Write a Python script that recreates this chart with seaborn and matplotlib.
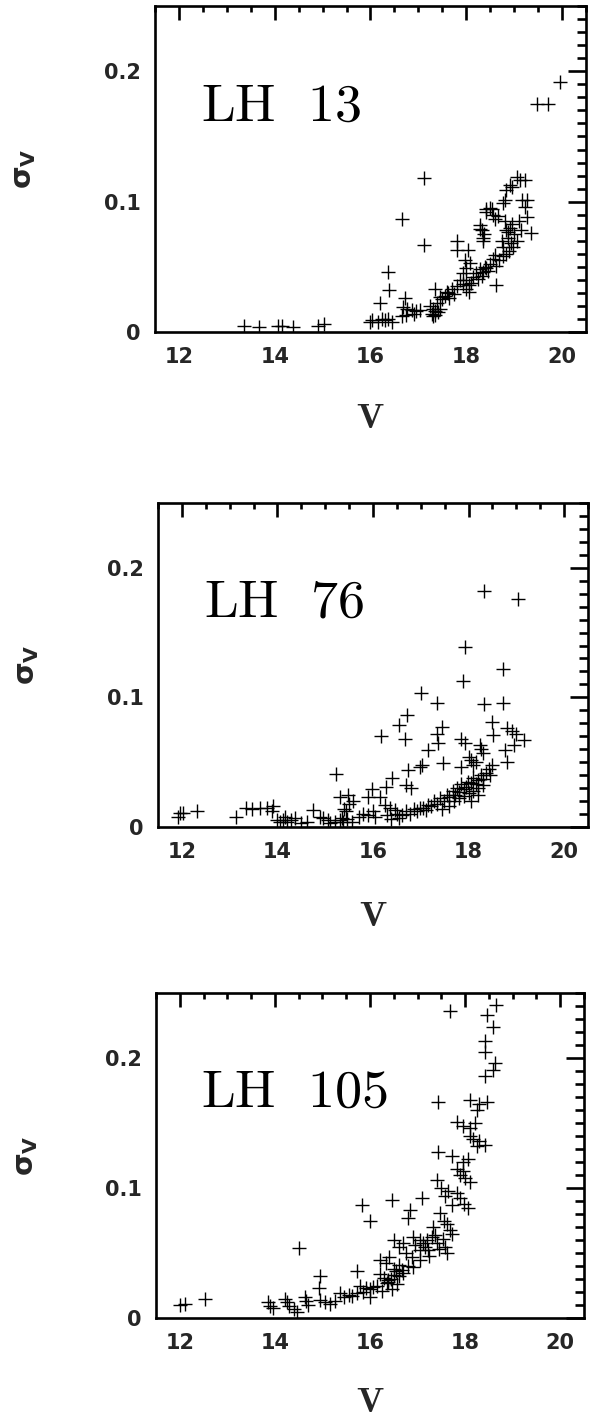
import matplotlib
matplotlib.use("Agg")
import matplotlib.pyplot as plt
from matplotlib.ticker import MultipleLocator
import seaborn as sns
import pandas as pd

# ---- photometric errors versus V magnitude for three LMC associations ----
lh13_v = [13.36, 13.67, 14.07, 14.15, 14.38, 14.90, 15.02,
          16.00, 16.04, 16.16, 16.24, 16.30, 16.37, 16.44,
          16.20, 16.39, 16.37, 16.65, 17.12, 17.12,
          19.95, 19.48, 19.71,
          16.65, 16.68, 16.72, 16.75, 16.76, 16.86, 16.95, 17.03, 16.90,
          17.24, 17.30, 17.35, 17.28, 17.39, 17.35, 17.45,
          17.30, 17.35, 17.40, 17.45,
          17.50, 17.55, 17.59, 17.65, 17.70, 17.75, 17.80, 17.62,
          17.80, 17.80, 18.04, 17.97, 18.08, 18.00, 17.94,
          17.87, 17.93, 18.00, 18.06, 18.15, 18.10, 17.99, 18.05,
          18.20, 18.28, 18.35, 18.25, 18.32, 18.40, 18.45,
          18.28, 18.33, 18.35, 18.29, 18.38, 18.36,
          18.42, 18.50, 18.55, 18.66, 18.53, 18.60, 18.42,
          18.42, 18.49, 18.55, 18.63, 18.63, 18.60, 18.68, 18.77,
          18.74, 18.80, 18.84, 18.88, 18.92, 18.96, 19.00, 19.05, 18.87, 18.93, 18.98,
          18.77, 18.82, 18.90,
          18.81, 18.77, 18.84, 18.91, 18.95, 19.05, 19.12, 19.22,
          19.16, 19.26, 19.22, 19.26, 19.36, 19.10, 19.15]
lh13_sig = [0.005, 0.004, 0.005, 0.005, 0.004, 0.005, 0.006,
            0.008, 0.009, 0.008, 0.010, 0.009, 0.010, 0.008,
            0.022, 0.032, 0.046, 0.087, 0.118, 0.067,
            0.192, 0.175, 0.175,
            0.012, 0.019, 0.026, 0.013, 0.018, 0.017, 0.016, 0.017, 0.014,
            0.020, 0.018, 0.016, 0.014, 0.022, 0.033, 0.027,
            0.012, 0.013, 0.015, 0.018,
            0.025, 0.028, 0.031, 0.026, 0.033, 0.029, 0.035, 0.030,
            0.070, 0.063, 0.063, 0.055, 0.053, 0.049, 0.045,
            0.040, 0.037, 0.040, 0.036, 0.042, 0.038, 0.033, 0.031,
            0.045, 0.048, 0.046, 0.041, 0.043, 0.050, 0.047,
            0.082, 0.078, 0.072, 0.079, 0.075, 0.070,
            0.094, 0.095, 0.090, 0.089, 0.094, 0.087, 0.092,
            0.049, 0.052, 0.056, 0.051, 0.036, 0.059, 0.055, 0.058,
            0.070, 0.085, 0.078, 0.072, 0.080, 0.083, 0.075, 0.070, 0.077, 0.068, 0.065,
            0.065, 0.060, 0.062,
            0.101, 0.099, 0.109, 0.113, 0.111, 0.119, 0.117, 0.117,
            0.101, 0.101, 0.096, 0.088, 0.076, 0.085, 0.078]

lh76_v = [11.92, 11.96, 12.03, 12.31, 13.14, 13.35, 13.46, 13.63, 13.78, 13.90, 13.88,
          13.98, 14.05, 14.12, 14.20, 14.28, 14.16, 14.37, 14.50, 14.62, 14.74,
          14.89, 14.96, 15.05, 15.10, 15.20, 15.30, 15.38, 15.45, 15.55, 15.35,
          15.22, 15.30, 15.47, 15.50, 15.40, 15.59, 15.43, 15.90, 15.97, 16.14,
          16.17, 16.28, 16.39, 16.25, 16.35, 16.55, 16.67, 16.72, 16.70, 16.80,
          16.74, 16.98, 17.02, 17.00, 17.15, 17.33, 17.36, 17.34, 17.45, 17.47,
          17.85, 17.92, 17.85, 17.89, 17.93, 18.32, 19.03, 18.72, 18.32, 18.72,
          18.48, 18.52, 18.80, 18.90, 19.00, 19.15, 18.96, 18.76, 18.80,
          18.24, 18.30, 18.27, 18.06, 18.10, 18.00, 18.16,
          15.70, 15.80, 15.90, 16.00, 16.05, 16.30, 16.38, 16.45, 16.50, 16.55,
          16.60, 16.70, 16.78, 16.85, 16.92, 16.98, 17.05, 17.10, 17.15, 17.22,
          17.28, 17.33, 17.40, 17.48, 17.55, 17.60, 17.67, 17.72, 17.75, 17.80,
          17.85, 17.90, 17.95, 17.99, 18.06, 18.10, 18.15, 18.20, 18.25, 18.30,
          18.37, 18.42, 18.45, 18.50, 17.70, 17.80, 17.90, 18.00, 18.10, 18.20,
          18.30, 18.05, 18.20, 17.60, 17.45]
lh76_sig = [0.008, 0.011, 0.011, 0.012, 0.008, 0.015, 0.014, 0.015, 0.015, 0.016, 0.012,
            0.005, 0.004, 0.005, 0.004, 0.005, 0.008, 0.007, 0.003, 0.004, 0.013,
            0.008, 0.007, 0.005, 0.003, 0.004, 0.005, 0.004, 0.006, 0.004, 0.007,
            0.041, 0.023, 0.025, 0.018, 0.014, 0.020, 0.012, 0.023, 0.029, 0.023,
            0.070, 0.031, 0.038, 0.017, 0.015, 0.079, 0.068, 0.086, 0.032, 0.030,
            0.044, 0.046, 0.048, 0.103, 0.059, 0.072, 0.065, 0.096, 0.077, 0.049,
            0.068, 0.065, 0.046, 0.113, 0.139, 0.182, 0.176, 0.122, 0.095, 0.096,
            0.081, 0.071, 0.076, 0.074, 0.072, 0.067, 0.063, 0.059, 0.050,
            0.063, 0.057, 0.060, 0.052, 0.048, 0.054, 0.050,
            0.008, 0.010, 0.009, 0.012, 0.008, 0.009, 0.006, 0.013, 0.010, 0.007,
            0.009, 0.012, 0.010, 0.014, 0.012, 0.015, 0.015, 0.013, 0.017, 0.016,
            0.020, 0.018, 0.022, 0.020, 0.025, 0.023, 0.028, 0.025, 0.030, 0.027,
            0.033, 0.029, 0.031, 0.035, 0.034, 0.038, 0.033, 0.036, 0.040, 0.037,
            0.042, 0.045, 0.040, 0.048, 0.020, 0.022, 0.024, 0.026, 0.028, 0.030,
            0.032, 0.020, 0.025, 0.016, 0.014]

lh105_v = [12.00, 12.11, 12.53, 13.86, 13.90, 13.97, 14.21, 14.25, 14.30, 14.40,
           14.46, 14.50, 14.63, 14.70, 14.65, 14.95, 14.93, 14.95, 15.05, 15.15,
           15.26, 15.37, 15.45, 15.55, 15.63, 15.72, 15.72, 15.79, 15.85, 15.92,
           16.00, 16.07, 16.14, 16.00, 15.83, 16.00, 16.46, 16.21, 16.30, 16.38,
           16.50, 16.21, 16.33, 16.40, 16.50, 16.60, 16.67, 16.38, 16.47, 16.56,
           16.50, 16.60, 16.70, 16.75, 16.88, 16.90, 16.95, 17.05, 17.12, 17.19,
           17.05, 16.90, 16.84, 16.80, 17.09, 17.05, 17.15, 17.22, 17.33, 17.36,
           17.40, 17.53, 17.57, 17.61, 17.47, 17.55, 17.62, 17.68, 17.72, 17.40,
           17.50, 17.58, 17.65, 17.72, 17.82, 17.90, 17.98, 18.06, 17.82, 17.90,
           17.95, 18.00, 18.10, 17.44, 17.72, 17.95, 18.06, 18.10, 18.24, 18.30,
           18.42, 18.17, 17.82, 17.95, 18.10, 18.21, 18.24, 18.10, 18.30, 18.45,
           17.44, 18.42, 18.59, 18.63, 18.42, 18.42, 18.59, 18.45, 18.65, 17.68,
           16.25, 16.35, 16.45, 16.60, 16.70, 16.80, 16.55, 17.25, 17.30, 17.45]
lh105_sig = [0.010, 0.011, 0.015, 0.0125, 0.009, 0.0075, 0.015, 0.0125, 0.009, 0.007,
             0.005, 0.054, 0.016, 0.010, 0.013, 0.032, 0.023, 0.014, 0.012, 0.011,
             0.013, 0.019, 0.016, 0.018, 0.017, 0.019, 0.036, 0.025, 0.020, 0.023,
             0.022, 0.024, 0.025, 0.016, 0.087, 0.075, 0.091, 0.034, 0.031, 0.029,
             0.033, 0.045, 0.042, 0.047, 0.038, 0.041, 0.037, 0.028, 0.022, 0.026,
             0.060, 0.055, 0.058, 0.050, 0.047, 0.062, 0.056, 0.052, 0.058, 0.060,
             0.045, 0.039, 0.083, 0.077, 0.092, 0.060, 0.055, 0.052, 0.070, 0.064,
             0.058, 0.061, 0.055, 0.050, 0.081, 0.075, 0.072, 0.068, 0.065, 0.106,
             0.100, 0.094, 0.098, 0.087, 0.096, 0.092, 0.088, 0.085, 0.115, 0.110,
             0.113, 0.108, 0.105, 0.128, 0.125, 0.120, 0.122, 0.140, 0.132, 0.136,
             0.133, 0.138, 0.151, 0.148, 0.146, 0.150, 0.160, 0.168, 0.165, 0.166,
             0.166, 0.186, 0.191, 0.196, 0.205, 0.213, 0.224, 0.233, 0.241, 0.236,
             0.021, 0.027, 0.030, 0.032, 0.035, 0.040, 0.036, 0.048, 0.062, 0.053]

cluster_names = ["LH  13", "LH  76", "LH  105"]
x_ticks = [12, 14, 16, 18, 20]
x_tick_labels = ["12", "14", "16", "18", "20"]
y_ticks = [0.0, 0.1, 0.2]
y_tick_labels = ["0", "0.1", "0.2"]

panels = [
    (lh13_v, lh13_sig, cluster_names[0]),
    (lh76_v, lh76_sig, cluster_names[1]),
    (lh105_v, lh105_sig, cluster_names[2]),
]

# axes rectangles in figure fractions [left, bottom, width, height]
rects = [
    [0.2618, 0.7655, 0.7280, 0.2302],
    [0.2669, 0.4160, 0.7264, 0.2288],
    [0.2635, 0.0692, 0.7230, 0.2295],
]
xlabel_y = [-0.212, -0.222, -0.205]

sns.set_style("white")
plt.rcParams["font.family"] = ["DejaVu Sans"]

fig = plt.figure(figsize=(5.92, 14.16), dpi=100)
fig.patch.set_facecolor("white")

for (vmag, sig, name), rect, xly in zip(panels, rects, xlabel_y):
    ax = fig.add_axes(rect)
    df = pd.DataFrame({"V": vmag, "sigma": sig})
    sns.scatterplot(data=df, x="V", y="sigma", ax=ax, marker="+",
                    color="black", s=90, linewidth=1.0, legend=False)
    ax.set_xlim(11.5, 20.5)
    ax.set_ylim(0.0, 0.25)

    ax.set_xticks(x_ticks)
    ax.set_xticklabels(x_tick_labels)
    ax.set_yticks(y_ticks)
    ax.set_yticklabels(y_tick_labels)
    ax.xaxis.set_minor_locator(MultipleLocator(0.5))
    ax.yaxis.set_minor_locator(MultipleLocator(0.01))

    ax.tick_params(which="both", direction="in", top=True, right=True,
                   width=1.9, color="black")
    ax.tick_params(axis="x", which="major", length=10, pad=10.5)
    ax.tick_params(axis="x", which="minor", length=4.5)
    ax.tick_params(axis="y", which="major", length=13, pad=10.5)
    ax.tick_params(axis="y", which="minor", length=6.5)
    for lab in ax.get_xticklabels() + ax.get_yticklabels():
        lab.set_fontsize(15)
        lab.set_fontweight("bold")

    for sp in ax.spines.values():
        sp.set_linewidth(1.9)
        sp.set_color("black")

    ax.set_xlabel(r"$\mathbf{V}$", fontsize=26, math_fontfamily="cm")
    ax.xaxis.set_label_coords(0.5, xly)
    ax.set_ylabel(r"$\mathbf{\sigma_{V}}$", fontsize=21,
                  math_fontfamily="dejavusans")
    ax.yaxis.set_label_coords(-0.272, 0.5)

    ax.text(0.106, 0.65, r"$\mathrm{" + name.replace(" ", r"\ ") + r"}$",
            transform=ax.transAxes, fontsize=39, math_fontfamily="cm",
            ha="left", va="baseline", color="black")

fig.savefig("out.png", dpi=100, facecolor="white")
